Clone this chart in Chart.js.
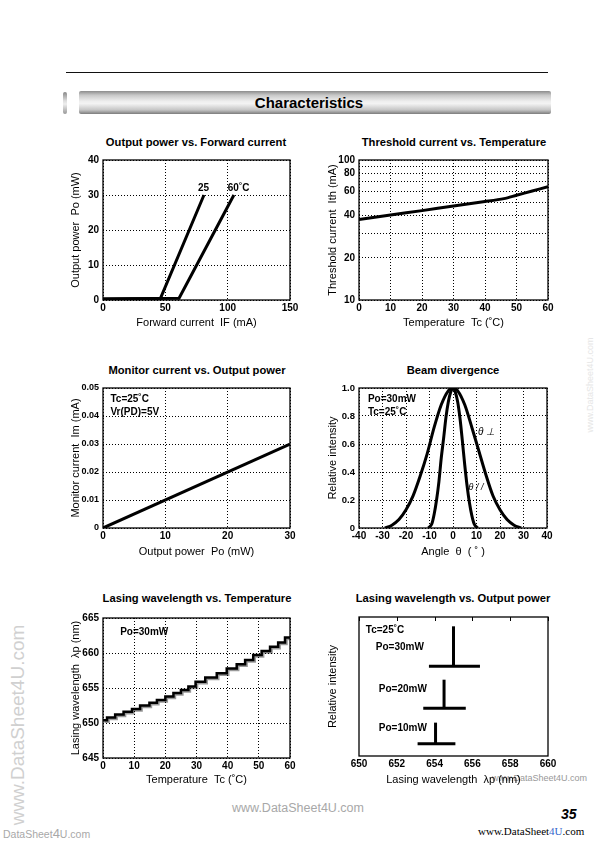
<!DOCTYPE html>
<html><head><meta charset="utf-8">
<script src="https://cdn.jsdelivr.net/npm/chart.js@4/dist/chart.umd.min.js"></script>
<style>
html,body{margin:0;padding:0;background:#fff}
body{width:596px;height:843px;position:relative;overflow:hidden;font-family:"Liberation Sans",Arial,Helvetica,sans-serif;color:#000}
.abs{position:absolute;white-space:nowrap}
canvas{position:absolute}
.ct{position:absolute;font-weight:bold;font-size:11.2px;white-space:nowrap;transform:translate(-50%,-50%)}
</style></head><body>
<div class="abs" style="left:66px;top:72px;width:482px;height:1px;background:#111"></div>
<div class="abs" style="left:63px;top:92px;width:4px;height:22px;border-radius:2px;background:linear-gradient(to bottom,#888 0%,#ddd 40%,#eee 55%,#999 100%)"></div>
<div class="abs" style="left:79px;top:91px;width:472px;height:23px;border-radius:2px;background:linear-gradient(to bottom,#8c8c8c 0%,#c8c8c8 18%,#efefef 45%,#f3f3f3 55%,#c6c6c6 82%,#7c7c7c 100%);text-align:center;font-weight:bold;font-size:15px;line-height:23px"><span style="position:relative;left:-6px">Characteristics</span></div>

<div class="ct" style="left:196px;top:142px">Output power vs. Forward current</div>
<div class="ct" style="left:454px;top:142px">Threshold current vs. Temperature</div>
<div class="ct" style="left:197px;top:370px">Monitor current vs. Output power</div>
<div class="ct" style="left:453px;top:370px">Beam divergence</div>
<div class="ct" style="left:197px;top:598px">Lasing wavelength vs. Temperature</div>
<div class="ct" style="left:453px;top:598px">Lasing wavelength vs. Output power</div>

<div class="abs" style="left:0;width:596px;top:801px;text-align:center;color:#a8a8a8;font-size:12.5px">www.DataSheet4U.com</div>
<div class="abs" style="left:561px;top:806px;font-weight:bold;font-style:italic;font-size:14px">35</div>
<div class="abs" style="left:478px;top:825px;font-family:'Liberation Serif','DejaVu Serif',serif;font-size:11px">www.DataSheet<span style="color:#3366cc">4U</span>.com</div>
<div class="abs" style="left:3px;top:826px;color:#a8a8a8;font-size:10.5px">DataSheet<span style="font-size:13px">4</span>U.com</div>
<div class="abs" style="left:18px;top:725px;color:#d0d0d0;font-size:19px;transform:translate(-50%,-50%) rotate(-90deg)">www.DataSheet4U.com</div>
<div class="abs" style="left:590px;top:385px;color:#e6e6e6;font-size:9px;transform:translate(-50%,-50%) rotate(-90deg)">www.DataSheet4U.com</div>
<div class="abs" style="left:492px;top:773px;color:#999;font-size:9px">www.DataSheet4U.com</div>

<script>
// ---------- DATA ----------
// Output power vs. Forward current
const ifCurrent25 = [0, 46, 81];
const poOut25 = [0.3, 0.4, 30];
const ifCurrent60 = [0, 61, 105];
const poOut60 = [0.3, 0.5, 30];
const ifTicks = [0, 50, 100, 150];
const ifLabels = ['0', '50', '100', '150'];
const poTicks = [0, 10, 20, 30, 40];
const poLabels = ['0', '10', '20', '30', '40'];

// Threshold current vs. Temperature
const tcThreshold = [0, 10, 20, 30, 40, 46, 50, 55, 60];
const ithValues = [37.5, 40.5, 43.5, 47, 50.5, 53, 56, 60, 64.5];
const tcTicks = [0, 10, 20, 30, 40, 50, 60];
const tcLabels = ['0', '10', '20', '30', '40', '50', '60'];
const ithGrid = [10, 20, 30, 40, 50, 60, 70, 80, 90, 100];
const ithLabels = ['10', '20', '', '40', '', '60', '', '80', '', '100'];

// Monitor current vs. Output power
const poMonitor = [0, 30];
const imMonitor = [0, 0.03];
const poMonTicks = [0, 10, 20, 30];
const poMonLabels = ['0', '10', '20', '30'];
const imTicks = [0, 0.01, 0.02, 0.03, 0.04, 0.05];
const imLabels = ['0', '0.01', '0.02', '0.03', '0.04', '0.05'];

// Beam divergence
const anglePerp = [-29, -26, -23, -20, -17, -14, -11, -8, -5, -2, 0, 2, 5, 8, 11, 14, 17, 20, 23, 26, 29];
const intensityPerp = [0, 0.02, 0.06, 0.13, 0.23, 0.37, 0.53, 0.72, 0.88, 0.98, 1, 0.98, 0.88, 0.72, 0.55, 0.38, 0.23, 0.13, 0.06, 0.02, 0];
const anglePar = [-10.5, -9, -8, -7, -6, -5, -4, -3, -2, -1, 0, 1, 2, 3, 4, 5, 6, 7, 8, 9, 10.5];
const intensityPar = [0, 0.03, 0.1, 0.2, 0.33, 0.5, 0.64, 0.79, 0.9, 0.97, 1, 0.97, 0.9, 0.78, 0.62, 0.45, 0.3, 0.18, 0.09, 0.03, 0];
const angleTicks = [-40, -30, -20, -10, 0, 10, 20, 30, 40];
const angleLabels = ['-40', '-30', '-20', '-10', '0', '10', '20', '30', '40'];
const relTicks = [0, 0.2, 0.4, 0.6, 0.8, 1.0];
const relLabels = ['0', '0.2', '0.4', '0.6', '0.8', '1.0'];

// Lasing wavelength vs. Temperature (mode-hop staircase)
const tcSteps = [0, 1.3, 3.9, 6.6, 9.3, 11.9, 14.9, 17.3, 20.0, 22.6, 25.0, 27.4, 29.7, 32.8, 36.5, 39.7, 42.9, 45.6, 48.2, 50.9, 53.6, 56.2, 58.4, 60];
const lambdaSteps = [650.4, 650.8, 651.2, 651.6, 652.0, 652.5, 652.9, 653.3, 653.8, 654.3, 654.7, 655.2, 655.9, 656.5, 657.1, 657.8, 658.4, 659.0, 659.7, 660.3, 660.9, 661.5, 662.2, 662.2];
const lamTicks = [645, 650, 655, 660, 665];
const lamLabels = ['645', '650', '655', '660', '665'];

// Lasing wavelength vs. Output power (spectra)
const specPowers = ['Po=30mW', 'Po=20mW', 'Po=10mW'];
const specPeak = [655.0, 654.5, 654.05];
const specTop = [93.3, 54.9, 24.0];
const specBase = [64.5, 34.3, 8.9];
const specFrom = [653.7, 653.4, 653.1];
const specTo = [656.4, 655.65, 655.1];
const wlTicks = [650, 652, 654, 656, 658, 660];
const wlLabels = ['650', '652', '654', '656', '658', '660'];

// ---------- RENDERING ----------
const FONT = '"Liberation Sans", Arial, Helvetica, sans-serif';
const LH = 11 * 1.2 / 2;
const pts = (xs, ys) => xs.map((x, i) => ({x: x, y: ys[i]}));

const frame = {id: 'frame', afterDatasetsDraw(ch) {
  const a = ch.chartArea, c = ch.ctx;
  c.save(); c.strokeStyle = '#000'; c.lineWidth = 1.3;
  c.strokeRect(a.left, a.top, a.right - a.left, a.bottom - a.top); c.restore();
}};
const notes = {id: 'notes', afterDatasetsDraw(ch, args, opts) {
  const c = ch.ctx, xs = ch.scales.x, ys = ch.scales.y;
  (opts.items || []).forEach(it => {
    c.save(); c.font = it.font || ('bold 10px ' + FONT); c.fillStyle = '#000';
    c.textAlign = it.align || 'left'; c.textBaseline = 'middle';
    c.fillText(it.text, xs.getPixelForValue(it.x), ys.getPixelForValue(it.y)); c.restore();
  });
}};
const innerTicks = {id: 'innerTicks', afterDatasetsDraw(ch) {
  const xs = ch.scales.x, a = ch.chartArea, c = ch.ctx;
  c.save(); c.strokeStyle = '#000'; c.lineWidth = 1;
  xs.ticks.forEach(t => { const px = Math.round(xs.getPixelForValue(t.value)) + 0.5;
    c.beginPath(); c.moveTo(px, a.top); c.lineTo(px, a.top + 4); c.stroke(); });
  c.restore();
}};
const shadow = {id: 'shadow',
  beforeDatasetDraw(ch) { const c = ch.ctx; c.save(); c.shadowColor = 'rgba(0,0,0,0.4)'; c.shadowOffsetX = 1.5; c.shadowOffsetY = 1.5; c.shadowBlur = 0; },
  afterDatasetDraw(ch) { ch.ctx.restore(); }};

function axis(a, isX, fitVal, title, titlePad) {
  return {
    type: a.type || 'linear', min: a.min, max: a.max,
    afterFit(s) { if (isX) s.height = fitVal; else s.width = fitVal; },
    afterBuildTicks(s) { s.ticks = (a.ticks || []).map(v => ({value: v})); },
    grid: {display: a.grid !== false, color: '#000', lineWidth: 1, drawTicks: false},
    border: {display: false, dash: [1, 2]},
    ticks: {display: a.showLabels !== false, autoSkip: false, maxRotation: 0, padding: isX ? 2 : 4, color: '#000',
      font: {family: FONT, size: a.fs || 10, weight: 'bold'}, callback: (v, i) => a.labels ? a.labels[i] : v},
    title: {display: true, text: title, color: '#000', font: {family: FONT, size: 11}, padding: titlePad}
  };
}

function makeChart(box, plot, o) {
  const cv = document.createElement('canvas');
  cv.width = box.w; cv.height = box.h;
  cv.style.left = box.left + 'px'; cv.style.top = box.top + 'px';
  cv.style.width = box.w + 'px'; cv.style.height = box.h + 'px';
  document.body.appendChild(cv);
  const yw = plot.l - box.left, xh = box.top + box.h - plot.b;
  const pt = plot.t - box.top, pr = box.left + box.w - plot.r;
  const yPad = {top: plot.ytx - box.left - LH, bottom: 0};
  const xPad = {top: 0, bottom: box.top + box.h - plot.xty - LH};
  new Chart(cv, {
    type: 'line',
    data: {datasets: o.datasets},
    options: {
      responsive: false, animation: false, devicePixelRatio: 1, events: [],
      layout: {padding: {left: 0, top: pt, right: pr, bottom: 0}},
      plugins: {legend: {display: false}, tooltip: {enabled: false}, title: {display: false}, notes: {items: o.notes || []}},
      elements: {point: {radius: 0}, line: {borderColor: '#000', borderWidth: 3, fill: false}},
      scales: {x: axis(o.x, true, xh, o.xTitle, xPad), y: axis(o.y, false, yw, o.yTitle, yPad)}
    },
    plugins: [frame, notes].concat(o.plugins || [])
  });
}

// Chart 1
makeChart({left: 55, top: 150, w: 250, h: 185}, {l: 103, t: 160, r: 290, b: 300, ytx: 76, xty: 323}, {
  datasets: [
    {data: pts(ifCurrent25, poOut25), borderColor: '#000', borderWidth: 3, tension: 0},
    {data: pts(ifCurrent60, poOut60), borderColor: '#000', borderWidth: 3, tension: 0}
  ],
  x: {min: 0, max: 150, ticks: ifTicks, labels: ifLabels},
  y: {min: 0, max: 40, ticks: poTicks, labels: poLabels},
  xTitle: 'Forward current  IF (mA)', yTitle: 'Output power  Po (mW)',
  notes: [{text: '25', x: 80.7, y: 32, align: 'center'}, {text: '60\u02DAC', x: 108.8, y: 32, align: 'center'}]
});

// Chart 2
makeChart({left: 318, top: 150, w: 248, h: 185}, {l: 359, t: 160, r: 548, b: 300, ytx: 333, xty: 323}, {
  datasets: [{data: pts(tcThreshold, ithValues), borderColor: '#000', borderWidth: 3, tension: 0.3}],
  x: {min: 0, max: 60, ticks: tcTicks, labels: tcLabels},
  y: {type: 'logarithmic', min: 10, max: 100, ticks: ithGrid, labels: ithLabels},
  xTitle: 'Temperature  Tc (\u02DAC)', yTitle: 'Threshold current  Ith (mA)'
});

// Chart 3
makeChart({left: 55, top: 378, w: 250, h: 185}, {l: 103, t: 388, r: 290, b: 528, ytx: 76, xty: 552}, {
  datasets: [{data: pts(poMonitor, imMonitor), borderColor: '#000', borderWidth: 3}],
  x: {min: 0, max: 30, ticks: poMonTicks, labels: poMonLabels},
  y: {min: 0, max: 0.05, ticks: imTicks, labels: imLabels, fs: 9},
  xTitle: 'Output power  Po (mW)', yTitle: 'Monitor current  Im (mA)',
  notes: [{text: 'Tc=25\u02DAC', x: 1.2, y: 0.0461}, {text: 'Vr(PD)=5V', x: 1.2, y: 0.0414}]
});

// Chart 4
makeChart({left: 318, top: 378, w: 248, h: 185}, {l: 359, t: 388, r: 547, b: 528, ytx: 333, xty: 552}, {
  datasets: [
    {data: pts(anglePerp, intensityPerp), borderColor: '#000', borderWidth: 3, cubicInterpolationMode: 'monotone'},
    {data: pts(anglePar, intensityPar), borderColor: '#000', borderWidth: 3, cubicInterpolationMode: 'monotone'}
  ],
  x: {min: -40, max: 40, ticks: angleTicks, labels: angleLabels},
  y: {min: 0, max: 1, ticks: relTicks, labels: relLabels, fs: 9.5},
  xTitle: 'Angle  \u03B8  ( \u02DA )', yTitle: 'Relative intensity',
  notes: [{text: 'Po=30mW', x: -36.2, y: 0.921}, {text: 'Tc=25\u02DAC', x: -36.2, y: 0.829},
    {text: '\u03B8 \u22A5', x: 10.6, y: 0.686, font: 'italic 10px ' + FONT},
    {text: '\u03B8 / /', x: 6.6, y: 0.286, font: 'italic 9px ' + FONT}]
});

// Chart 5
makeChart({left: 55, top: 608, w: 250, h: 185}, {l: 103, t: 618, r: 290, b: 758, ytx: 76, xty: 780}, {
  datasets: [{data: pts(tcSteps, lambdaSteps), borderColor: '#000', borderWidth: 2.5, stepped: true}],
  x: {min: 0, max: 60, ticks: tcTicks, labels: tcLabels},
  y: {min: 645, max: 665, ticks: lamTicks, labels: lamLabels},
  xTitle: 'Temperature  Tc (\u02DAC)', yTitle: 'Lasing wavelength  \u03BBp (nm)',
  notes: [{text: 'Po=30mW', x: 5.5, y: 663.0}],
  plugins: [shadow]
});

// Chart 6
const specSets = [];
specPeak.forEach((p, i) => {
  specSets.push({data: [{x: p, y: specBase[i]}, {x: p, y: specTop[i]}], borderColor: '#000', borderWidth: 3});
  specSets.push({data: [{x: specFrom[i], y: specBase[i]}, {x: specTo[i], y: specBase[i]}], borderColor: '#000', borderWidth: 3});
});
makeChart({left: 318, top: 607, w: 248, h: 185}, {l: 359, t: 617, r: 548, b: 756, ytx: 333, xty: 780}, {
  datasets: specSets,
  x: {min: 650, max: 660, ticks: wlTicks, labels: wlLabels, grid: false},
  y: {min: 0, max: 100, ticks: [], grid: false, showLabels: false},
  xTitle: 'Lasing wavelength  \u03BBp (nm)', yTitle: 'Relative intensity',
  notes: [{text: 'Tc=25\u02DAC', x: 650.36, y: 90.6}, {text: specPowers[0], x: 650.89, y: 78.4},
    {text: specPowers[1], x: 651.05, y: 48.2}, {text: specPowers[2], x: 651.05, y: 20.1}],
  plugins: [innerTicks]
});
</script>
</body></html>
